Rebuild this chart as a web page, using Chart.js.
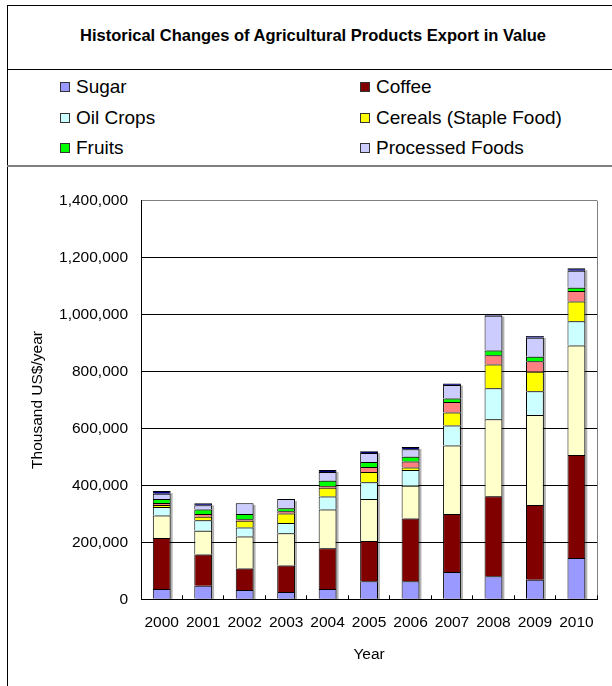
<!DOCTYPE html>
<html>
<head>
<meta charset="utf-8">
<title>Historical Changes of Agricultural Products Export in Value</title>
<script src="https://cdn.jsdelivr.net/npm/chart.js@4.4.1/dist/chart.umd.min.js"></script>
<style>
  html, body { margin: 0; padding: 0; background: #fff; }
  body { width: 612px; height: 686px; position: relative; overflow: hidden;
         font-family: "Liberation Sans", Arial, sans-serif; color: #000; }
  .frame { position: absolute; left: 7px; top: 5px; width: 700px; height: 700px;
           border-left: 1px solid #000; border-top: 1px solid #000; }
  .rule { position: absolute; left: 7px; width: 700px; }
  #title { position: absolute; left: 8px; top: 6px; width: 610px; height: 58px;
           line-height: 58px; text-align: center; font-weight: bold; font-size: 16.5px; }
  .item { position: absolute; height: 22px; display: flex; align-items: center;
          font-size: 19px; white-space: nowrap; }
  .item span.box { width: 10px; height: 10px; box-sizing: border-box;
                   border: 1px solid #333; margin-right: 6px; }
  #chart { position: absolute; left: 0; top: 167px; }
</style>
</head>
<body>
<div class="frame"></div>
<div class="rule" style="top:69px;height:1px;background:#000"></div>
<div class="rule" style="top:165px;height:2px;background:#808080"></div>
<div id="title">Historical Changes of Agricultural Products Export in Value</div>
<div id="legend"></div>
<canvas id="chart" width="612" height="519"></canvas>

<script>
// Years on the x axis
const years = ['2000', '2001', '2002', '2003', '2004', '2005', '2006', '2007', '2008', '2009', '2010'];

// Thousand US$/year (bottom of the stack first)
const sugar       = [36000, 48000, 33000, 26000, 36000, 63000, 63000, 96000, 81000, 69000, 145000];
const coffee      = [179000, 109000, 75000, 93000, 143000, 142000, 221000, 204000, 281000, 262000, 362000];
const otherCrops  = [79000, 84000, 113000, 113000, 136000, 147000, 115000, 240000, 270000, 316000, 384000];
const oilCrops    = [30000, 37000, 31000, 36000, 46000, 59000, 55000, 70000, 109000, 84000, 86000];
const cereals     = [7000, 12000, 24000, 33000, 31000, 36000, 9000, 46000, 84000, 68000, 69000];
const otherGoods  = [7000, 10000, 5000, 8000, 6000, 18000, 21000, 37000, 32000, 37000, 37000];
const fruits      = [14000, 15000, 19000, 11000, 18000, 17000, 17000, 12000, 17000, 16000, 11000];
const processed   = [19000, 15000, 37000, 32000, 31000, 32000, 26000, 48000, 122000, 67000, 60000];
const others      = [9000, 7000, 1000, 0, 7000, 6000, 8000, 5000, 4000, 6000, 9000];

// y axis tick values
const yTicks = [0, 200000, 400000, 600000, 800000, 1000000, 1200000, 1400000];

// only these series appear in the legend box
const legendNames = ['Sugar', 'Coffee', 'Oil Crops', 'Cereals (Staple Food)', 'Fruits', 'Processed Foods'];

const FONT = '"Liberation Sans", Arial, sans-serif';

const series = [
    { label: 'Sugar', data: sugar, color: '#9999FF' },
    { label: 'Coffee', data: coffee, color: '#800000' },
    { label: 'Other Crops', data: otherCrops, color: '#FFFFCC' },
    { label: 'Oil Crops', data: oilCrops, color: '#CCFFFF' },
    { label: 'Cereals (Staple Food)', data: cereals, color: '#FFFF00' },
    { label: 'Other Goods', data: otherGoods, color: '#FF8080' },
    { label: 'Fruits', data: fruits, color: '#00FF00' },
    { label: 'Processed Foods', data: processed, color: '#CCCCFF' },
    { label: 'Others', data: others, color: '#000080' }
];

// grey drop shadow on the right side of each stack, like the Excel original
const barShadow = {
    id: 'barShadow',
    beforeDatasetsDraw(chart) {
        const ctx = chart.ctx;
        const y = chart.scales.y;
        const meta = chart.getDatasetMeta(0);
        ctx.save();
        ctx.fillStyle = 'rgba(0,0,0,0.3)';
        meta.data.forEach((bar, i) => {
            const total = series.reduce((s, d) => s + d.data[i], 0);
            const top = y.getPixelForValue(total);
            const base = y.getPixelForValue(0);
            ctx.fillRect(bar.x - bar.width / 2 + 2, top + 2, bar.width, base - top - 2);
        });
        ctx.restore();
    }
};

const chart = new Chart(document.getElementById('chart').getContext('2d'), {
    type: 'bar',
    data: {
        labels: years,
        datasets: series.map(s => ({
            label: s.label,
            data: s.data,
            backgroundColor: s.color,
            borderColor: '#000',
            borderWidth: 1
        }))
    },
    options: {
        responsive: false,
        animation: false,
        layout: { padding: { left: 0, right: 8, top: 33.7, bottom: 0 } },
        datasets: { bar: { categoryPercentage: 1, barPercentage: 0.43 } },
        plugins: {
            legend: { display: false },
            tooltip: { enabled: false }
        },
        scales: {
            x: {
                stacked: true,
                grid: {
                    offset: true,
                    drawOnChartArea: true,
                    color: (c) => c.type === 'tick' ? 'rgba(0,0,0,0)' : '#808080',
                    tickColor: '#000',
                    tickLength: -4
                },
                border: { color: '#000', width: 1 },
                ticks: {
                    color: '#000',
                    autoSkip: false,
                    maxRotation: 0,
                    padding: 18,
                    font: { family: FONT, size: 15.5 }
                },
                title: {
                    display: true,
                    text: 'Year',
                    color: '#000',
                    padding: { top: 0, bottom: 21.7 },
                    font: { family: FONT, size: 15.5 }
                },
                afterFit: (s) => { s.height = 86.7; }
            },
            y: {
                stacked: true,
                min: 0,
                max: 1400000,
                afterBuildTicks: (s) => { s.ticks = yTicks.map(v => ({ value: v })); },
                grid: {
                    color: (c) => c.tick && c.tick.value === 1400000 ? '#808080' : '#000',
                    drawTicks: false
                },
                border: { color: '#000', width: 1 },
                ticks: {
                    color: '#000',
                    padding: 13,
                    font: { family: FONT, size: 15.5 },
                    callback: (v) => Number(v).toLocaleString('en-US')
                },
                title: {
                    display: true,
                    text: 'Thousand US$/year',
                    color: '#000',
                    padding: { top: 28.7, bottom: 0 },
                    font: { family: FONT, size: 15.5 }
                },
                afterFit: (s) => { s.width = 141; }
            }
        }
    },
    plugins: [barShadow]
});

// HTML legend box, two columns, built from the chart's datasets
const legendEl = document.getElementById('legend');
const shown = chart.data.datasets.filter(d => legendNames.includes(d.label));
const colX = [60, 360];
const rowY = [87, 118, 148];
shown.forEach((d, i) => {
    const item = document.createElement('div');
    item.className = 'item';
    item.style.left = colX[i % 2] + 'px';
    item.style.top = (rowY[Math.floor(i / 2)] - 11) + 'px';
    const box = document.createElement('span');
    box.className = 'box';
    box.style.background = d.backgroundColor;
    item.appendChild(box);
    item.appendChild(document.createTextNode(d.label));
    legendEl.appendChild(item);
});
</script>
</body>
</html>
